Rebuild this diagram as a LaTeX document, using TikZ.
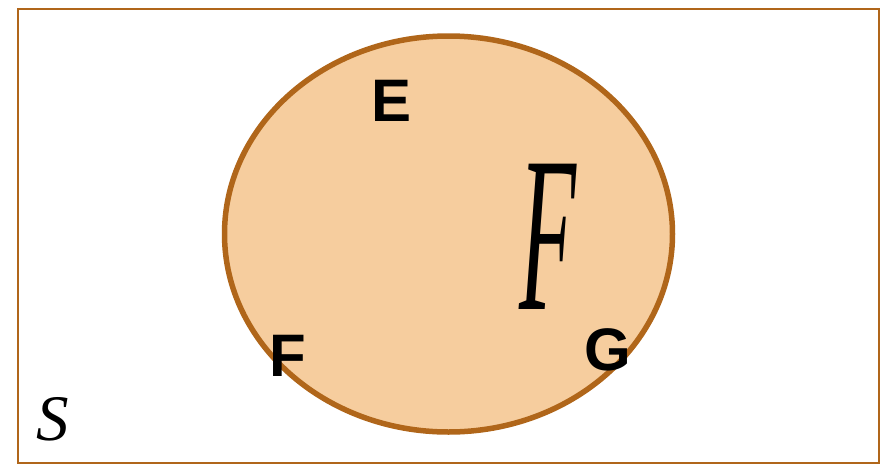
\documentclass[tikz,border=0pt]{standalone}
\usepackage{fontspec}
\setmainfont{Liberation Sans}
\newfontfamily\serifit{Liberation Serif}
\definecolor{brownline}{HTML}{B0661A}
\definecolor{peach}{HTML}{F6CD9E}
\begin{document}
\begin{tikzpicture}[x=1pt,y=-1pt,
  lbl/.style={font=\fontsize{60}{60}\selectfont\bfseries, inner sep=0pt, anchor=center}]
\useasboundingbox (0,0) rectangle (887,464);
\draw[brownline, line width=2.5pt] (18,9) rectangle (879,463);
\draw[brownline, fill=peach, line width=5.5pt] (448.5,234) ellipse [x radius=224, y radius=198];
\node[lbl] (e) at (392,101) {E};
\node[lbl] (f) at (288,356) {F};
\node[lbl] (g) at (608,350) {G};
\node[inner sep=0pt, xscale=0.42, font=\serifit\itshape\fontsize{222}{222}\selectfont] (bigf) at (548,237) {F};
\node[inner sep=0pt, font=\serifit\itshape\fontsize{65}{65}\selectfont] (s) at (53,419) {S};
\end{tikzpicture}
\end{document}
